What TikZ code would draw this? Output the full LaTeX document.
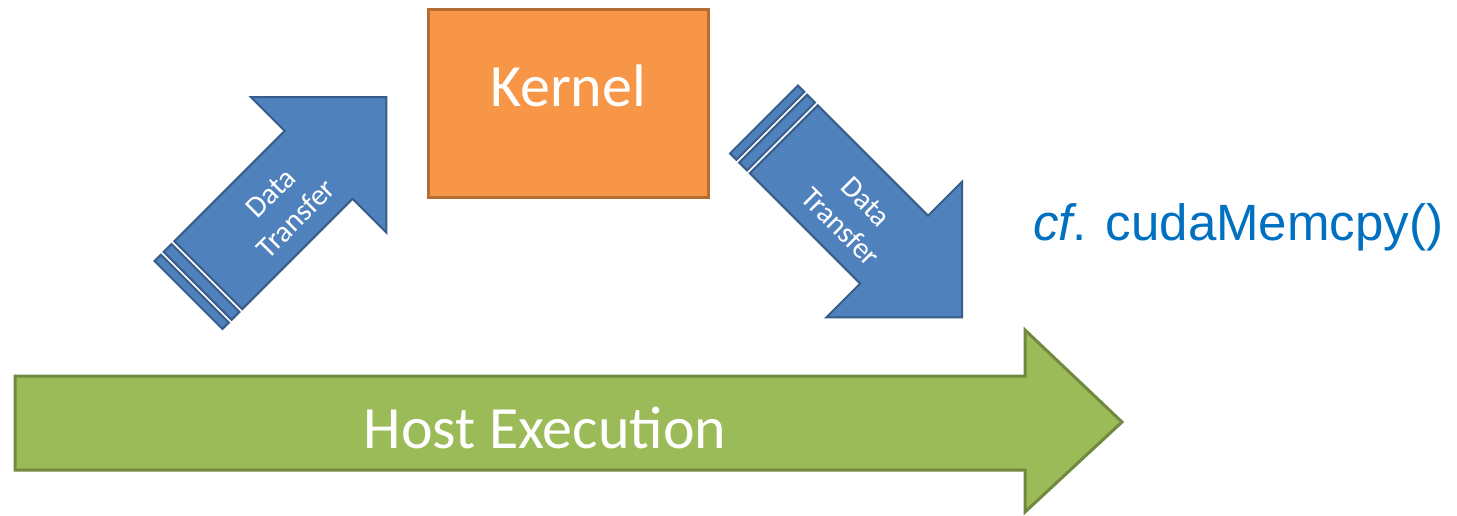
\documentclass[tikz,border=0pt]{standalone}
\usepackage{fontspec}
\setmainfont{Carlito}
\newfontfamily\arialfont{Liberation Sans}
\definecolor{blueF}{HTML}{4F81BD}
\definecolor{blueD}{HTML}{385D8A}
\definecolor{orangeF}{HTML}{F79646}
\definecolor{orangeD}{HTML}{B66D31}
\definecolor{greenF}{HTML}{9BBB59}
\definecolor{greenD}{HTML}{71893F}
\definecolor{cfblue}{HTML}{0070C0}
\tikzset{
  bluearrow/.style={fill=blueF, draw=blueD, line width=2pt, line join=miter},
  dtext/.style={text=white, font=\fontsize{30}{36}\selectfont, align=center, inner sep=0pt},
  kernelbox/.style={fill=orangeF, draw=orangeD, line width=3pt},
  hostarrow/.style={fill=greenF, draw=greenD, line width=3pt, line join=miter},
  bigtext/.style={text=white, font=\fontsize{60}{72}\selectfont, inner sep=0pt, anchor=base},
  cftext/.style={text=cfblue, font=\arialfont\fontsize{51}{60}\selectfont, inner sep=0pt, anchor=base west}
}
\newcommand\stripedarrow[3]{%
  \begin{scope}[shift={#1}, rotate=#2]
    \path[bluearrow] (0,-48) rectangle (9,48);
    \path[bluearrow] (13,-48) rectangle (24,48);
    \path[bluearrow] (28,-48) -- (184,-48) -- (184,-96) -- (280,0) -- (184,96) -- (184,48) -- (28,48) -- cycle;
    \node[dtext, rotate=#2] (#3) at (130,-4) {Data\\Transfer};
  \end{scope}}
\begin{document}
\begin{tikzpicture}[x=1pt, y=1pt]
  \fill[white] (0,0) rectangle (1457,-516);
  \useasboundingbox (0,0) rectangle (1457,-516);
  % host execution arrow
  \path[hostarrow] (15,-376) -- (1025,-376) -- (1025,-330) -- (1122,-422) -- (1025,-512) -- (1025,-470) -- (15,-470) -- cycle;
  \node[bigtext] (host) at (545,-448) {Host Execution};
  % kernel
  \path[kernelbox] (428,-10) rectangle (708,-197);
  \node[bigtext] (kernel) at (568,-107) {Kernel};
  % data transfer arrows
  \stripedarrow{(188.5,-295)}{45}{dtin}
  \stripedarrow{(764,-119.5)}{-45}{dtout}
  % cf text
  \node[cftext] (cf) at (1033,-240) {\textit{cf}. cudaMemcpy()};
\end{tikzpicture}
\end{document}
